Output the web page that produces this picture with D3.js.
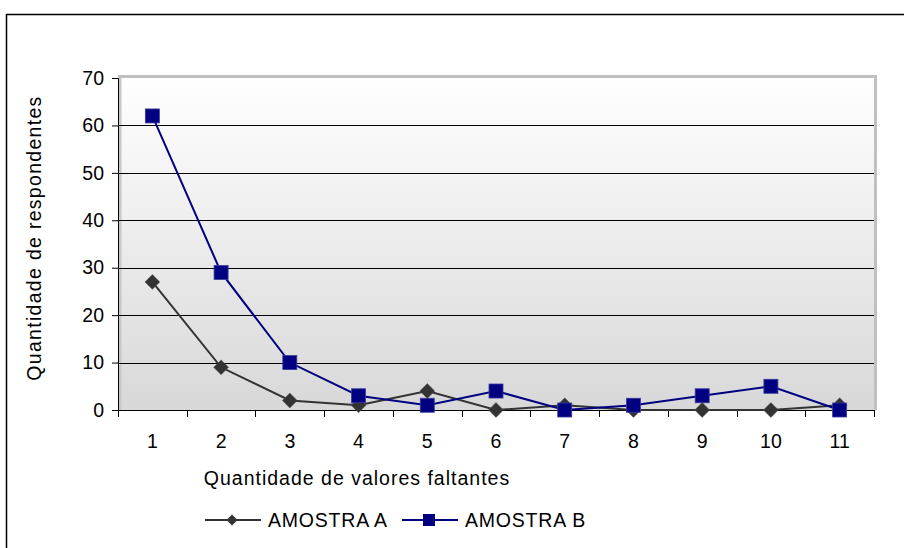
<!DOCTYPE html>
<html>
<head>
<meta charset="utf-8">
<script src="https://cdn.jsdelivr.net/npm/d3@7"></script>
<style>
  html, body { margin: 0; padding: 0; background: #ffffff; }
  svg { display: block; }
  text { font-family: "Liberation Sans", Arial, sans-serif; fill: #000; }
</style>
</head>
<body>
<svg id="chart" width="904" height="548"></svg>
<script>
// Number of missing values per respondent (1..11)
const categories = ["1", "2", "3", "4", "5", "6", "7", "8", "9", "10", "11"];
const amostraA = [27, 9, 2, 1, 4, 0, 1, 0, 0, 0, 1];
const amostraB = [62, 29, 10, 3, 1, 4, 0, 1, 3, 5, 0];
const yTicks = [0, 10, 20, 30, 40, 50, 60, 70];
const seriesNames = ["AMOSTRA A", "AMOSTRA B"];
const xTitle = "Quantidade de valores faltantes";
const yTitle = "Quantidade de respondentes";

const W = 904, H = 548;
const FS = 19.5;
const margin = { left: 118, top: 78, right: 30, bottom: 138 };
const pw = W - margin.left - margin.right;
const ph = H - margin.top - margin.bottom;

const svg = d3.select("#chart");

// outer frame
svg.append("rect")
  .attr("x", 6.5).attr("y", 14.5)
  .attr("width", 920).attr("height", 560)
  .attr("fill", "none").attr("stroke", "#000").attr("stroke-width", 1.5);

const defs = svg.append("defs");
const grad = defs.append("linearGradient")
  .attr("id", "plotBg").attr("x1", 0).attr("y1", 0).attr("x2", 0).attr("y2", 1);
grad.append("stop").attr("offset", "0%").attr("stop-color", "#ffffff");
grad.append("stop").attr("offset", "100%").attr("stop-color", "#d8d8d8");

const g = svg.append("g").attr("transform", `translate(${margin.left},${margin.top})`);

const x = d3.scaleBand().domain(categories).range([0, pw]);
const y = d3.scaleLinear().domain([0, 70]).range([ph, 0]);

// plot area
g.append("rect").attr("x", 0).attr("y", 0).attr("width", pw).attr("height", ph)
  .attr("fill", "url(#plotBg)");

// shaded top / right plot border
g.append("path")
  .attr("d", `M0,${y(70) - 1.5} H${pw + 1.5} V${ph}`)
  .attr("fill", "none").attr("stroke", "#c0c0c0").attr("stroke-width", 3);
// shading next to the value axis
g.append("line").attr("x1", 2).attr("x2", 2).attr("y1", 0).attr("y2", ph)
  .attr("stroke", "#c8c8c8").attr("stroke-width", 3);

// gridlines
g.append("g").selectAll("line")
  .data(yTicks.filter(t => t > 0 && t < 70))
  .join("line")
  .attr("x1", 0).attr("x2", pw)
  .attr("y1", d => Math.round(y(d)) + 0.5).attr("y2", d => Math.round(y(d)) + 0.5)
  .attr("stroke", "#000").attr("stroke-width", 1);

// y axis
const yAxis = g.append("g")
  .call(d3.axisLeft(y).tickValues(yTicks).tickSize(6).tickPadding(8).tickFormat(d3.format("d")));
yAxis.selectAll("text").attr("font-size", FS)
  .attr("font-family", "'Liberation Sans', Arial, sans-serif").attr("fill", "#000");
yAxis.selectAll("line, path").attr("stroke", "#000");

// x axis with ticks between categories
const xAxisG = g.append("g").attr("transform", `translate(0,${ph})`);
xAxisG.append("line").attr("x1", 0).attr("x2", pw).attr("y1", 0.5).attr("y2", 0.5)
  .attr("stroke", "#000");
xAxisG.selectAll("line.tk")
  .data(d3.range(categories.length + 1))
  .join("line").attr("class", "tk")
  .attr("x1", i => Math.round(i * x.step()) + 0.5).attr("x2", i => Math.round(i * x.step()) + 0.5)
  .attr("y1", 0).attr("y2", 7).attr("stroke", "#000");
xAxisG.selectAll("text")
  .data(categories)
  .join("text")
  .attr("x", d => x(d) + x.bandwidth() / 2)
  .attr("y", 38)
  .attr("text-anchor", "middle")
  .attr("font-size", FS)
  .text(d => d);

// axis titles
svg.append("text")
  .attr("x", 357).attr("y", 485)
  .attr("text-anchor", "middle").attr("font-size", FS).attr("letter-spacing", 1)
  .text(xTitle);
svg.append("text")
  .attr("transform", "translate(41,238) rotate(-90)")
  .attr("text-anchor", "middle").attr("font-size", FS).attr("letter-spacing", 1.3)
  .text(yTitle);

// series
const colorA = "#333333", colorB = "#000080";
const line = d3.line().x((d, i) => x(categories[i]) + x.bandwidth() / 2).y(d => y(d));

g.append("path").datum(amostraA).attr("d", line)
  .attr("fill", "none").attr("stroke", colorA).attr("stroke-width", 2);
g.append("path").datum(amostraB).attr("d", line)
  .attr("fill", "none").attr("stroke", colorB).attr("stroke-width", 2);

const diamond = d3.symbol().type(d3.symbolSquare).size(110);
g.append("g").selectAll("path")
  .data(amostraA)
  .join("path")
  .attr("d", diamond)
  .attr("transform", (d, i) => `translate(${x(categories[i]) + x.bandwidth() / 2},${y(d)}) rotate(45)`)
  .attr("fill", colorA).attr("stroke", "#555").attr("stroke-width", 0.5);

g.append("g").selectAll("rect")
  .data(amostraB)
  .join("rect")
  .attr("x", (d, i) => x(categories[i]) + x.bandwidth() / 2 - 7)
  .attr("y", d => y(d) - 7)
  .attr("width", 14).attr("height", 14)
  .attr("fill", colorB).attr("stroke", "#3a3aa0").attr("stroke-width", 0.8);

// legend
const legend = svg.append("g");
const legendItems = [
  { name: seriesNames[0], color: colorA, x0: 205, kind: "diamond" },
  { name: seriesNames[1], color: colorB, x0: 402, kind: "square" }
];
legendItems.forEach(it => {
  const ly = 520;
  legend.append("line").attr("x1", it.x0).attr("x2", it.x0 + 56).attr("y1", ly).attr("y2", ly)
    .attr("stroke", it.color).attr("stroke-width", 2);
  if (it.kind === "diamond") {
    legend.append("path").attr("d", d3.symbol().type(d3.symbolSquare).size(60))
      .attr("transform", `translate(${it.x0 + 27},${ly}) rotate(45)`).attr("fill", it.color);
  } else {
    legend.append("rect").attr("x", it.x0 + 21).attr("y", ly - 6).attr("width", 12).attr("height", 12)
      .attr("fill", it.color);
  }
  legend.append("text").attr("x", it.x0 + 63).attr("y", ly + 7)
    .attr("font-size", FS).attr("letter-spacing", 0.8).text(it.name);
});
</script>
</body>
</html>
